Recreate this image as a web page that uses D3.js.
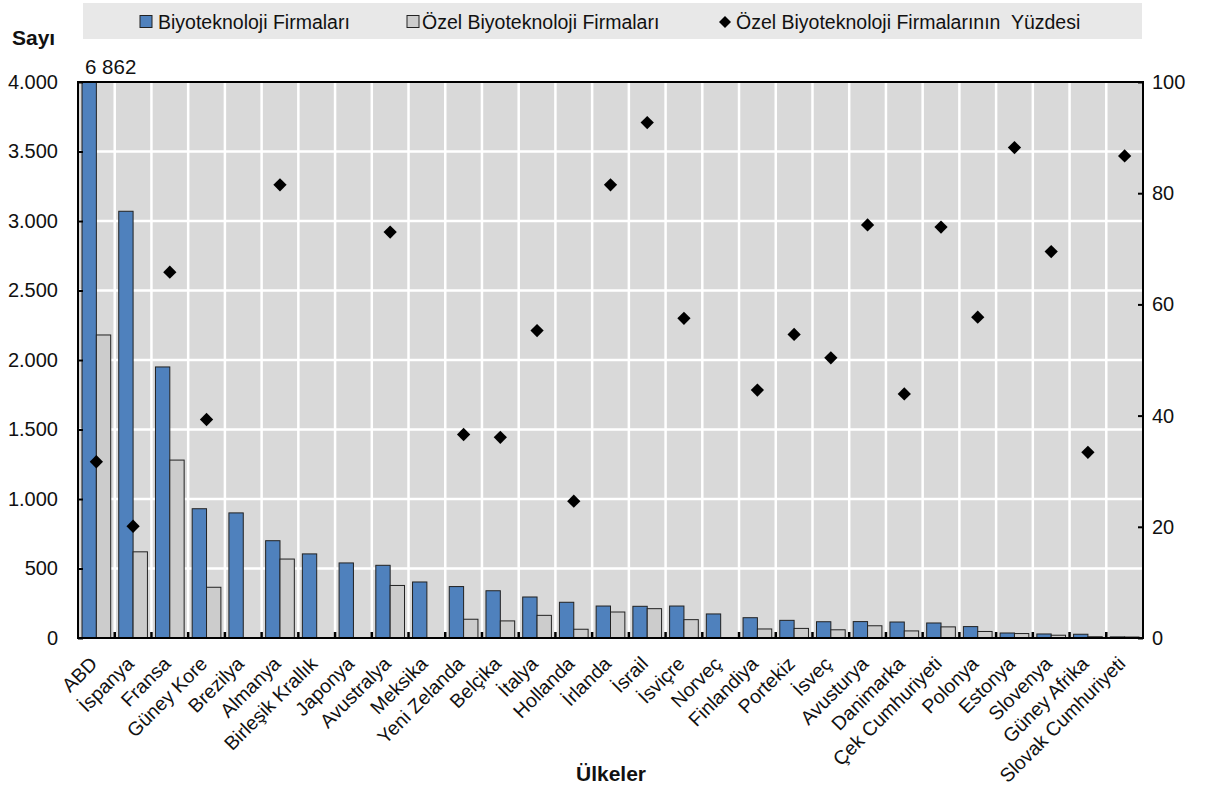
<!DOCTYPE html>
<html><head><meta charset="utf-8">
<script src="https://cdn.jsdelivr.net/npm/d3@7"></script>
<style>
body{margin:0;background:#fff;}
svg text{font-family:"Liberation Sans",Arial,sans-serif;fill:#111;}
</style></head>
<body><svg id="c" width="1207" height="790"></svg>
<script>
const categories = ["ABD","İspanya","Fransa","Güney Kore","Brezilya","Almanya","Birleşik Krallık","Japonya","Avustralya","Meksika","Yeni Zelanda","Belçika","İtalya","Hollanda","İrlanda","İsrail","İsviçre","Norveç","Finlandiya","Portekiz","İsveç","Avusturya","Danimarka","Çek Cumhuriyeti","Polonya","Estonya","Slovenya","Güney Afrika","Slovak Cumhuriyeti"];
const biotechFirms = [6862,3070,1950,930,900,700,605,540,523,403,370,340,295,257,230,228,230,173,146,127,117,118,115,108,82,36,29,27,8];
const privateFirms = [2180,620,1280,365,null,568,null,null,378,null,135,123,163,63,187,211,132,null,65,69,59,88,51,80,47,32,20,9,7];
const privateShare = [31.7,20.1,65.8,39.3,null,81.5,null,null,73.0,null,36.6,36.1,55.3,24.6,81.5,92.7,57.5,null,44.6,54.6,50.4,74.3,43.9,73.9,57.7,88.2,69.5,33.4,86.7];
const leftTicks = [0,500,1000,1500,2000,2500,3000,3500,4000];
const rightTicks = [0,20,40,60,80,100];
const seriesNames = ["Biyoteknoloji Firmaları","Özel Biyoteknoloji Firmaları","Özel Biyoteknoloji Firmalarının  Yüzdesi"];
const yTitle = "Sayı", xTitle = "Ülkeler";

const svg = d3.select("#c");
const L = 78, R = 1143, T = 82, B = 638;
const fmt = d3.formatLocale({decimal:",",thousands:".",grouping:[3],currency:["",""]}).format(",d");

const x = d3.scaleBand().domain(categories).range([L,R]).padding(0);
const x1 = d3.scaleBand().domain(["a","b"]).range([0,x.bandwidth()]).paddingInner(0).paddingOuter(0.28);
const y = d3.scaleLinear().domain([0,4000]).range([B,T]);
const y2 = d3.scaleLinear().domain([0,100]).range([B,T]);

// plot background
svg.append("rect").attr("x",L).attr("y",T).attr("width",R-L).attr("height",B-T).attr("fill","#d9d9d9");
// gridlines
svg.append("g").selectAll("line").data(leftTicks.slice(1,-1)).join("line")
  .attr("x1",L).attr("x2",R).attr("y1",d=>y(d)).attr("y2",d=>y(d)).attr("stroke","#fff").attr("stroke-width",2.5);
svg.append("g").selectAll("line").data(categories.slice(1)).join("line")
  .attr("x1",d=>x(d)).attr("x2",d=>x(d)).attr("y1",T).attr("y2",B).attr("stroke","#fff").attr("stroke-width",2.5);

// bars
svg.append("clipPath").attr("id","pc").append("rect").attr("x",L).attr("y",T).attr("width",R-L).attr("height",B-T);
const gb = svg.append("g").attr("clip-path","url(#pc)");
gb.selectAll("rect.b").data(categories).join("rect").attr("class","b")
  .attr("x",(d)=>x(d)+x1("a")).attr("width",x1.bandwidth())
  .attr("y",(d,i)=>y(Math.min(biotechFirms[i],4000))).attr("height",(d,i)=>B-y(Math.min(biotechFirms[i],4000)))
  .attr("fill","#4f81bd").attr("stroke","#222").attr("stroke-width",1);
gb.selectAll("rect.p").data(categories.filter((d,i)=>privateFirms[i]!=null)).join("rect").attr("class","p")
  .attr("x",(d)=>x(d)+x1("b")).attr("width",x1.bandwidth())
  .attr("y",(d)=>y(privateFirms[categories.indexOf(d)])).attr("height",(d)=>B-y(privateFirms[categories.indexOf(d)]))
  .attr("fill","#cccccc").attr("stroke","#222").attr("stroke-width",1);

// diamonds
const dsym = d3.symbol().type(d3.symbolSquare).size(88);
svg.append("g").selectAll("path").data(categories.filter((d,i)=>privateShare[i]!=null)).join("path")
  .attr("d",dsym)
  .attr("transform",d=>`translate(${x(d)+x.bandwidth()/2},${y2(privateShare[categories.indexOf(d)])}) rotate(45)`)
  .attr("fill","#000");

// frame
svg.append("rect").attr("x",L).attr("y",T).attr("width",R-L).attr("height",B-T).attr("fill","none").attr("stroke","#000").attr("stroke-width",2);

// axes
const ax = svg.append("g").attr("transform",`translate(${L},0)`)
  .call(d3.axisLeft(y).tickValues(leftTicks).tickFormat(fmt).tickSize(-5).tickPadding(20));
const ax2 = svg.append("g").attr("transform",`translate(${R},0)`)
  .call(d3.axisRight(y2).tickValues(rightTicks).tickSize(-5).tickPadding(9));
[ax,ax2].forEach(a=>{a.select(".domain").remove();a.selectAll("line").attr("stroke","#000").attr("stroke-width",2);
  a.selectAll("text").attr("font-size",20).attr("fill","#222").attr("font-family",null);});
// x ticks at boundaries
svg.append("g").selectAll("line").data(categories.slice(1)).join("line")
  .attr("x1",d=>x(d)).attr("x2",d=>x(d)).attr("y1",B).attr("y2",B-6).attr("stroke","#000").attr("stroke-width",2.5);

// category labels
svg.append("g").selectAll("text").data(categories).join("text")
  .attr("transform",d=>`translate(${x(d)+x.bandwidth()/2+2},${B+27}) rotate(-45)`)
  .attr("text-anchor","end").attr("font-size",19.5).attr("fill","#222").text(d=>d);

// overflow label
svg.append("text").attr("x",x(categories[0])+x1("a")+3).attr("y",T-8).attr("font-size",20.5).attr("fill","#222")
  .text(String(biotechFirms[0]).replace(/\B(?=(\d{3})+(?!\d))/g," "));

// titles
svg.append("text").attr("x",12).attr("y",45).attr("font-size",21).attr("font-weight","bold").attr("fill","#000").text(yTitle);
svg.append("text").attr("x",611).attr("y",781).attr("text-anchor","middle").attr("font-size",21).attr("font-weight","bold").attr("fill","#000").text(xTitle);

// legend
const lg = svg.append("g");
lg.append("rect").attr("x",83).attr("y",3).attr("width",1059).attr("height",36).attr("fill","#e8e8e8");
const items = [{x:140,tx:158,type:"b"},{x:407,tx:422,type:"p"},{x:725,tx:736,type:"d"}];
items.forEach((it,i)=>{
  if(it.type==="d"){
    lg.append("path").attr("d",d3.symbol().type(d3.symbolSquare).size(72)).attr("transform",`translate(${it.x},22) rotate(45)`).attr("fill","#000");
  } else {
    lg.append("rect").attr("x",it.x).attr("y",15.5).attr("width",12).attr("height",12)
      .attr("fill",it.type==="b"?"#4f81bd":"#cccccc").attr("stroke","#222").attr("stroke-width",1);
  }
  lg.append("text").attr("x",it.tx).attr("y",29).attr("font-size",19.5).attr("fill","#222").style("white-space","pre").text(seriesNames[i]);
});
</script></body></html>
